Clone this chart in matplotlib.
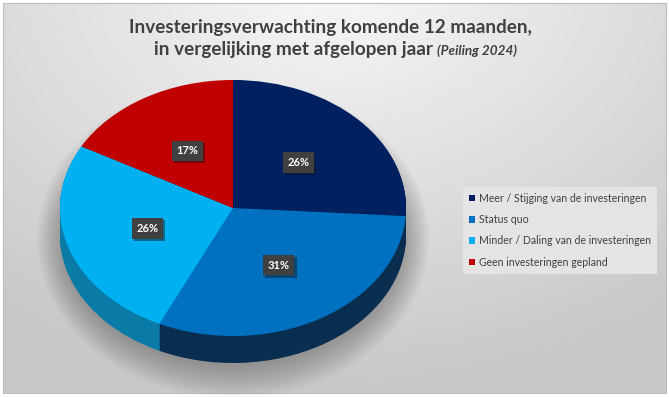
import numpy as np
import matplotlib
matplotlib.use('Agg')
import matplotlib.pyplot as plt
from matplotlib.patches import Ellipse, Rectangle
import matplotlib.patheffects as pe

# ---- data ----
categories = ['Meer / Stijging van de investeringen', 'Status quo',
              'Minder / Daling van de investeringen', 'Geen investeringen gepland']
values = [26, 31, 26, 17]
top_colors = ['#002060', '#0070C0', '#00B0F0', '#C00000']
side_colors = ['#001433', '#0a2e50', '#0a7ba6', '#7a0000']

title_line1 = 'Investeringsverwachting komende 12 maanden,'
title_line2 = 'in vergelijking met afgelopen jaar'
title_note = '(Peiling 2024)'

W, H = 669, 397
fig = plt.figure(figsize=(W / 100, H / 100), dpi=100)
fig.patch.set_facecolor('white')
renderer = fig.canvas.get_renderer()

# ---- background ----
bg = fig.add_axes([0, 0, 1, 1])
bg.set_xlim(0, W)
bg.set_ylim(H, 0)
bg.axis('off')
yy, xx = np.mgrid[0:H, 0:W]
r = np.sqrt(((xx - 330) / 560) ** 2 + ((yy + 30) / 420) ** 2)
g = 0.975 - 0.19 * np.clip(r, 0, 1)
bg.imshow(np.dstack([g, g, g]), extent=(3, W - 3, H - 4, 3), aspect='auto', zorder=0)
bg.add_patch(Rectangle((3, 3), W - 6, H - 7, fill=False, ec='#bdbdbd', lw=0.8))

# ---- pie ----
cx, cy, rx, ry = 233, 208, 173, 128
depth = 27
ax = fig.add_axes([0, 0, 1, 1])
ax.patch.set_alpha(0)

# soft shadow
for i in range(12):
    ax.add_patch(Ellipse((0, -depth / ry - 0.03), 2 * (1.0 + 0.012 * i), 2 * (1.0 + 0.022 * i),
                         fc='black', ec='none', alpha=0.025, zorder=0.5))

n = 40
for k in range(n, 0, -1):
    off = -depth / ry * k / n
    ax.pie(values, colors=side_colors, startangle=90, counterclock=False,
           center=(0, off), wedgeprops=dict(linewidth=0), frame=False)

wedges, texts, autotexts = ax.pie(
    values, colors=top_colors, startangle=90, counterclock=False, center=(0, 0),
    autopct=lambda p: f'{p:.0f}%', pctdistance=0.52,
    wedgeprops=dict(linewidth=0),
    textprops=dict(color='white', fontsize=8, fontweight='bold', family='Lato'))
ax.set_aspect('auto')
ax.set_xlim(-cx / rx, (W - cx) / rx)
ax.set_ylim((cy - H) / ry, cy / ry)
ax.axis('off')

for t in autotexts:
    t.set_bbox(dict(boxstyle='square,pad=0.42', fc='#404040', ec='none'))
    t.get_bbox_patch().set_path_effects([pe.withSimplePatchShadow(offset=(1.5, -1.5), alpha=0.45)])

# ---- titles ----
def fit(txt, target):
    w = txt.get_window_extent(renderer).width
    txt.set_fontsize(txt.get_fontsize() * target / w)

tc = '#404040'
t1 = fig.text(330 / W, 1 - 33 / H, title_line1, ha='center', va='baseline',
              family='Lato', fontweight='bold', color=tc, fontsize=14)
fit(t1, 405)
t2 = fig.text(433 / W, 1 - 55 / H, title_line2, ha='right', va='baseline',
              family='Lato', fontweight='bold', color=tc, fontsize=14)
fit(t2, 280)
t3 = fig.text(437 / W, 1 - 55 / H, title_note, ha='left', va='baseline',
              family='Lato', fontweight='bold', style='italic', color=tc, fontsize=7)
fit(t3, 80)

# ---- legend ----
tmp = fig.text(0, 0, categories[2], family='Lato', fontsize=8)
lw = tmp.get_window_extent(renderer).width
tmp.remove()
lfs = 8 * 173 / lw
leg = ax.legend(wedges, categories, loc='upper left', bbox_to_anchor=(463 / W, 1 - 187 / H),
                bbox_transform=fig.transFigure, prop=dict(family='Lato', size=lfs),
                handlelength=0.6, handleheight=0.6, handletextpad=0.35,
                labelspacing=0.98, borderpad=0.55, borderaxespad=0,
                fancybox=False, edgecolor='none', facecolor='#e4e4e4', framealpha=1)
for t in leg.get_texts():
    t.set_color('#404040')

fig.savefig('out.png', dpi=100)
